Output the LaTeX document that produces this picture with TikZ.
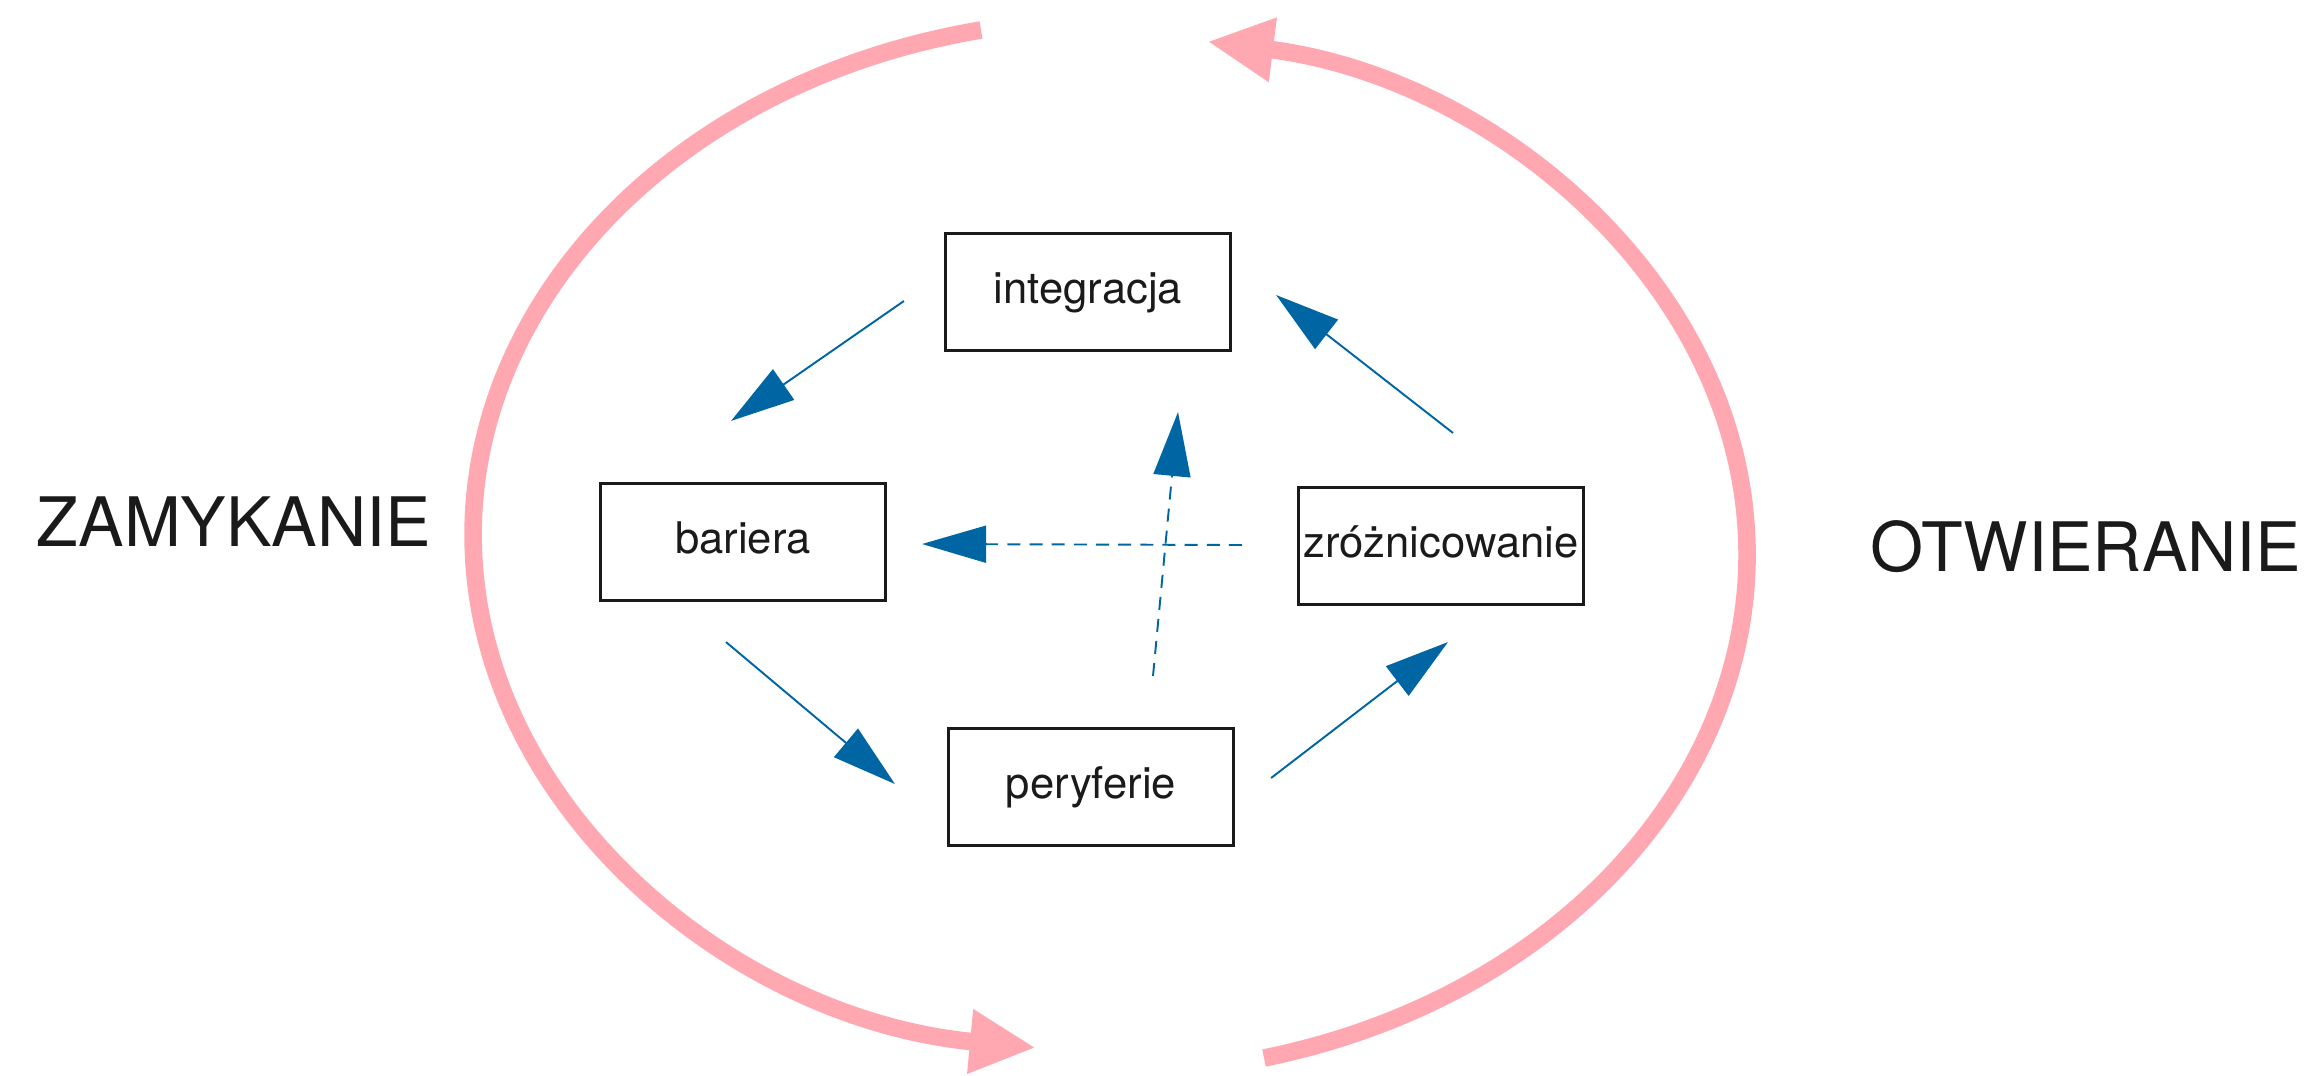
\documentclass[tikz,border=0pt]{standalone}
\usepackage{fontspec}
\setmainfont{TeX Gyre Heros}
\usetikzlibrary{arrows.meta}
\definecolor{loopPink}{RGB}{255,168,177}
\definecolor{flowBlue}{RGB}{0,101,163}
\definecolor{inkBlack}{RGB}{26,26,26}

\begin{document}
\begin{tikzpicture}[x=0.01cm, y=-0.01cm,
    stage/.style={rectangle, draw=inkBlack, line width=0.85pt, minimum width=2.85cm, minimum height=1.17cm, inner sep=0pt, text height=9pt, text depth=2.2pt, font=\fontsize{12.4}{14}\selectfont, text=inkBlack},
    phase/.style={font=\fontsize{19.4}{23}\selectfont, text=inkBlack},
    flow/.style={draw=flowBlue, line width=0.55pt, -{Triangle[length=0.64cm, width=0.37cm, fill=flowBlue]}},
    crossflow/.style={flow, dash pattern=on 3.7pt off 2.6pt},
    cyclearc/.style={draw=loopPink, line width=5pt, -{Triangle[length=0.66cm, width=0.6cm, fill=loopPink]}}]
    \useasboundingbox (0,0) rectangle (2315,1075);

    % Stages
    \node[stage] (integracja) at (1088,292) {integracja};
    \node[stage] (bariera) at (743,542) {bariera};
    \node[stage] (zroznicowanie) at (1441,546) {zróżnicowanie};
    \node[stage] (peryferie) at (1091,787) {peryferie};

    % Phases
    \node[phase] (zamykanie) at (234,522) {ZAMYKANIE};
    \node[phase] (otwieranie) at (2086,547) {OTWIERANIE};

    % Inner cycle
    \draw[flow] ([shift={(-40,9)}]integracja.west) -- ([shift={(-12,-61)}]bariera.north);
    \draw[flow] ([shift={(-17,40)}]bariera.south) -- ([shift={(-52,-3)}]peryferie.west);
    \draw[flow] ([shift={(36,-9)}]peryferie.east) -- ([shift={(7,36)}]zroznicowanie.south);
    \draw[flow] ([shift={(12,-53)}]zroznicowanie.north) -- ([shift={(44,3)}]integracja.east);

    % Shortcuts
    \draw[crossflow] ([shift={(-55,-1)}]zroznicowanie.west) -- ([shift={(35,2)}]bariera.east);
    \draw[crossflow] ([shift={(62,-51)}]peryferie.north) -- ([shift={(90,60)}]integracja.south);

    % Outer loop
    \draw[cyclearc] (981,30) arc[start angle=258.3, end angle=96.7, x radius=637, y radius=516];
    \draw[cyclearc] (1264,1058) arc[start angle=76, end angle=-81.2, x radius=637, y radius=519];
\end{tikzpicture}
\end{document}
